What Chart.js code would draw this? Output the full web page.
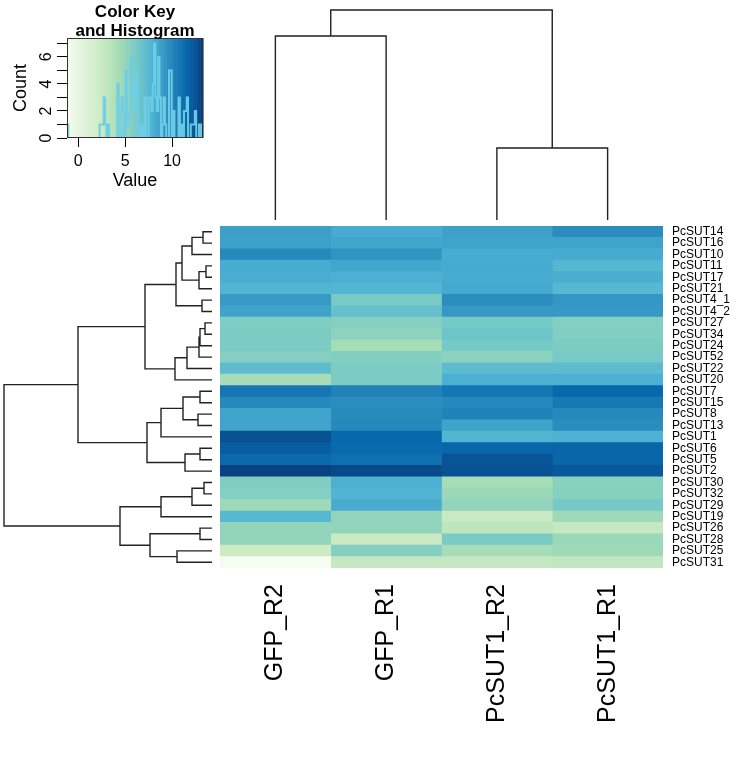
<!DOCTYPE html>
<html lang="en">
<head>
<meta charset="UTF-8" />
<title>PcSUT expression heatmap</title>
<script src="https://cdn.jsdelivr.net/npm/chart.js"></script>
<style>
  body { margin: 0; background: #fff; }
  #wrap { position: relative; width: 747px; height: 779px; }
  #wrap canvas { position: absolute; left: 0; top: 0; }
</style>
</head>
<body>
<div id="wrap">
  <canvas id="heat" width="747" height="779"></canvas>
  <canvas id="rowTree" width="747" height="779"></canvas>
  <canvas id="colTree" width="747" height="779"></canvas>
  <canvas id="key" width="747" height="779"></canvas>
</div>
<script>
// rows top to bottom, columns left to right
const rowNames = ['PcSUT14','PcSUT16','PcSUT10','PcSUT11','PcSUT17','PcSUT21','PcSUT4_1','PcSUT4_2',
  'PcSUT27','PcSUT34','PcSUT24','PcSUT52','PcSUT22','PcSUT20','PcSUT7','PcSUT15','PcSUT8','PcSUT13',
  'PcSUT1','PcSUT6','PcSUT5','PcSUT2','PcSUT30','PcSUT32','PcSUT29','PcSUT19','PcSUT26','PcSUT28',
  'PcSUT25','PcSUT31'];
const colNames = ['GFP_R2', 'GFP_R1', 'PcSUT1_R2', 'PcSUT1_R1'];

// expression values
const gfpR2 = [8.8, 8.7, 9.9, 8.2, 8.15, 7.7, 9.0, 8.6, 5.9, 6.0, 6.05, 5.7, 7.2, 4.3, 10.8, 9.9, 8.6, 8.55,
  12.5, 12.0, 11.4, 13.2, 5.9, 5.7, 4.6, 7.5, 5.1, 5.1, 2.4, -1.1];
const gfpR1 = [8.2, 8.5, 9.3, 8.45, 8.0, 7.7, 6.2, 6.9, 5.7, 5.3, 4.3, 5.75, 6.0, 6.0, 10.2, 9.7, 9.8, 9.9,
  11.5, 11.4, 11.1, 12.9, 8.0, 7.8, 8.2, 5.1, 5.15, 2.5, 5.7, 2.8];
const sut1R2 = [8.7, 8.6, 8.2, 8.25, 8.2, 8.35, 9.7, 9.1, 6.3, 6.6, 6.3, 5.4, 7.2, 8.0, 10.8, 9.9, 10.2, 8.6,
  7.7, 11.6, 12.4, 12.5, 4.3, 4.8, 5.1, 2.7, 3.2, 6.1, 4.3, 2.8];
const sut1R1 = [9.7, 8.6, 8.25, 7.6, 8.1, 7.5, 9.2, 9.1, 5.7, 5.8, 6.0, 6.2, 7.2, 8.0, 11.5, 10.7, 9.9, 9.7,
  7.9, 11.6, 11.6, 12.2, 5.5, 5.6, 6.3, 4.6, 2.8, 4.8, 4.6, 3.0];
const columns = [gfpR2, gfpR1, sut1R2, sut1R1];

// dendrograms: [a, b, height], numbers are leaves, 'mK' is the K-th merge
const colTreeMerges = [[0, 1, 184], [2, 3, 72], ['m0', 'm1', 210]];
const rowTreeMerges = [
  [0, 1, 9], ['m0', 2, 20], [3, 4, 6], ['m2', 5, 13], ['m1', 'm3', 30],
  [6, 7, 10], ['m4', 'm5', 36],
  [8, 9, 7], ['m7', 10, 12], ['m8', 11, 13], ['m9', 12, 25], ['m10', 13, 37],
  ['m6', 'm11', 67],
  [14, 15, 12], [16, 17, 14], ['m13', 'm14', 29], ['m15', 18, 51],
  [19, 20, 12], ['m17', 21, 27], ['m16', 'm18', 65],
  ['m12', 'm19', 134],
  [22, 23, 8], ['m21', 24, 20], ['m22', 25, 51],
  [26, 27, 12], [28, 29, 35], ['m24', 'm25', 62],
  ['m23', 'm26', 92],
  ['m20', 'm27', 208]
];

// colour key
const keyRange = [-1.2, 13.3];
const keyBins = 100;
const keyXTicks = [0, 5, 10];
const keyYTicks = [0, 1, 2, 3, 4, 5, 6, 7];
const gnbu = ['#f7fcf0','#e0f3db','#ccebc5','#a8ddb5','#7bccc4','#4eb3d3','#2b8cbe','#0868ac','#084081'];

Chart.defaults.font.family = "'Liberation Sans', Arial, Helvetica, sans-serif";
Chart.defaults.color = '#000';
Chart.defaults.animation = false;

function hexRgb(h) {
  return [1, 3, 5].map(i => parseInt(h.slice(i, i + 2), 16));
}
function cellColor(v) {
  let t = (v - keyRange[0]) / (keyRange[1] - keyRange[0]);
  t = Math.max(0, Math.min(1, t)) * (gnbu.length - 1);
  const i = Math.min(Math.floor(t), gnbu.length - 2), f = t - i;
  const a = hexRgb(gnbu[i]), b = hexRgb(gnbu[i + 1]);
  const c = a.map((x, k) => Math.round(x + (b[k] - x) * f));
  return `rgb(${c[0]},${c[1]},${c[2]})`;
}

function treePoints(merges) {
  const pos = [], hgt = [], pts = [];
  const node = n => typeof n === 'string'
    ? { p: pos[+n.slice(1)], h: hgt[+n.slice(1)] }
    : { p: n + 0.5, h: 0 };
  merges.forEach(([a, b, h], k) => {
    const A = node(a), B = node(b);
    pts.push({ h: A.h, p: A.p }, { h: h, p: A.p }, { h: h, p: B.p }, { h: B.h, p: B.p }, { h: null, p: null });
    pos[k] = (A.p + B.p) / 2;
    hgt[k] = h;
  });
  return pts;
}

const lineStyle = {
  showLine: true, pointRadius: 0, pointHitRadius: 0, borderColor: '#222',
  borderWidth: 1.4, spanGaps: false, clip: false, tension: 0
};
const quiet = { legend: { display: false }, tooltip: { enabled: false } };

// Heatmap
new Chart(document.getElementById('heat'), {
  type: 'bar',
  data: {
    labels: rowNames,
    datasets: columns.map((vals, j) => ({
      label: colNames[j],
      data: vals.map(() => [j, j + 1]),
      backgroundColor: vals.map(cellColor),
      borderWidth: 0,
      barPercentage: 1,
      categoryPercentage: 1,
      grouped: false
    }))
  },
  options: {
    indexAxis: 'y',
    responsive: false,
    layout: { padding: { left: 220, top: 226, right: 0, bottom: 0 } },
    plugins: quiet,
    scales: {
      x: { type: 'linear', min: 0, max: 4, display: false },
      y: {
        type: 'category', position: 'right',
        grid: { display: false, drawTicks: false }, border: { display: false },
        ticks: { padding: 9, autoSkip: false, font: { size: 12 } },
        afterFit: s => { s.width = 84; }
      },
      xc: {
        type: 'category', axis: 'x', position: 'bottom', labels: colNames, offset: true,
        grid: { display: false, drawTicks: false }, border: { display: false },
        ticks: { minRotation: 90, maxRotation: 90, padding: 16, autoSkip: false, font: { size: 25 } },
        afterFit: s => { s.height = 211; }
      }
    }
  }
});

// Row dendrogram (left)
new Chart(document.getElementById('rowTree'), {
  type: 'scatter',
  data: { datasets: [{ ...lineStyle, data: treePoints(rowTreeMerges).map(d => ({ x: d.h, y: d.p })) }] },
  options: {
    responsive: false,
    layout: { padding: { left: 4, top: 226, right: 535, bottom: 211 } },
    plugins: quiet,
    scales: {
      x: { type: 'linear', min: 0, max: 208, reverse: true, display: false },
      y: { type: 'linear', min: 0, max: rowNames.length, reverse: true, display: false }
    }
  }
});

// Column dendrogram (top)
new Chart(document.getElementById('colTree'), {
  type: 'scatter',
  data: { datasets: [{ ...lineStyle, data: treePoints(colTreeMerges).map(d => ({ x: d.p, y: d.h })) }] },
  options: {
    responsive: false,
    layout: { padding: { left: 220, top: 10, right: 84, bottom: 559 } },
    plugins: quiet,
    scales: {
      x: { type: 'linear', min: 0, max: colNames.length, display: false },
      y: { type: 'linear', min: 0, max: 210, display: false }
    }
  }
});

// Colour key with histogram
const allValues = columns.flat();
const keyStep = (keyRange[1] - keyRange[0]) / keyBins;
const breaks = Array.from({ length: keyBins + 1 }, (_, k) => keyRange[0] + k * keyStep);
const counts = new Array(keyBins).fill(0);
allValues.forEach(v => { counts[Math.min(keyBins - 1, Math.floor((v - keyRange[0]) / keyStep))]++; });
const histPoints = breaks.map((b, k) => ({ x: b, y: counts[Math.min(k, keyBins - 1)] }));

const keyDecor = {
  id: 'keyDecor',
  beforeDatasetsDraw(chart) {
    const { ctx, chartArea: a, scales: { x } } = chart;
    ctx.save();
    for (let k = 0; k < keyBins; k++) {
      const x0 = x.getPixelForValue(breaks[k]), x1 = x.getPixelForValue(breaks[k + 1]);
      ctx.fillStyle = cellColor((breaks[k] + breaks[k + 1]) / 2);
      ctx.fillRect(x0, a.top, x1 - x0 + 0.6, a.bottom - a.top);
    }
    ctx.restore();
  },
  afterDatasetsDraw(chart) {
    const { ctx, chartArea: a } = chart;
    ctx.save();
    ctx.strokeStyle = '#333';
    ctx.lineWidth = 1;
    ctx.strokeRect(a.left + 0.5, a.top + 0.5, a.right - a.left - 1, a.bottom - a.top - 1);
    ctx.fillStyle = '#000';
    ctx.font = "bold 17px 'Liberation Sans', Arial, sans-serif";
    ctx.textAlign = 'center';
    ctx.textBaseline = 'middle';
    const cx = (a.left + a.right) / 2;
    ctx.fillText('Color Key', cx, 12);
    ctx.fillText('and Histogram', cx, 31);
    ctx.restore();
  }
};

new Chart(document.getElementById('key'), {
  type: 'line',
  data: {
    datasets: [{
      data: histPoints, stepped: true, borderColor: 'rgba(110,205,230,0.95)', borderWidth: 2,
      pointRadius: 0, pointHitRadius: 0, fill: false
    }]
  },
  options: {
    responsive: false,
    layout: { padding: { left: 0, top: 38, right: 544, bottom: 583 } },
    plugins: quiet,
    scales: {
      x: {
        type: 'linear', min: keyRange[0], max: keyRange[1],
        afterBuildTicks: s => { s.ticks = keyXTicks.map(v => ({ value: v })); },
        grid: { drawOnChartArea: false, tickLength: 9, color: '#000' }, border: { display: false },
        ticks: { padding: 5, maxRotation: 0, autoSkip: false, font: { size: 16 } },
        title: { display: true, text: 'Value', font: { size: 18 }, padding: { top: 0, bottom: 4 } },
        afterFit: s => { s.height = 58; }
      },
      y: {
        type: 'linear', min: 0, max: 7.4,
        afterBuildTicks: s => { s.ticks = keyYTicks.map(v => ({ value: v })); },
        grid: { drawOnChartArea: false, tickLength: 10, color: '#000' }, border: { display: false },
        ticks: {
          padding: 6, minRotation: 90, maxRotation: 90, crossAlign: 'center', autoSkip: false,
          font: { size: 16 }, callback: v => (v % 2 === 0 ? v : '')
        },
        title: { display: true, text: 'Count', font: { size: 18 }, padding: { top: 10, bottom: 0 } },
        afterFit: s => { s.width = 67; }
      }
    }
  },
  plugins: [keyDecor]
});
</script>
</body>
</html>
